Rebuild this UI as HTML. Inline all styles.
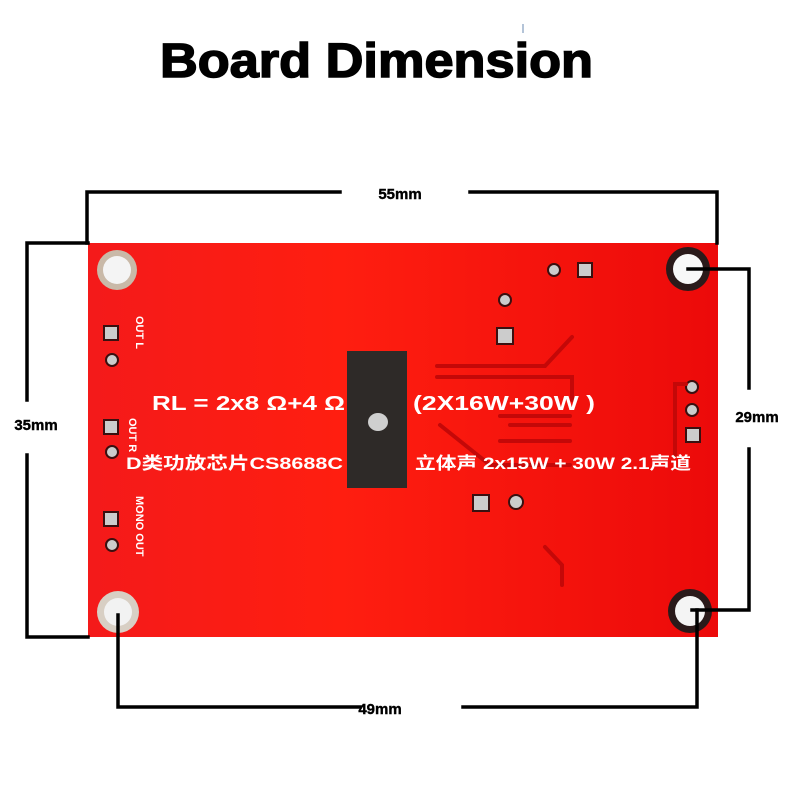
<!DOCTYPE html>
<html><head><meta charset="utf-8"><style>
html,body{margin:0;padding:0;background:#fff;}
svg{display:block;}
</style></head><body>
<svg width="790" height="790" viewBox="0 0 790 790" xmlns="http://www.w3.org/2000/svg">
<defs>
<linearGradient id="bg" x1="0" x2="1" y1="0" y2="0">
<stop offset="0" stop-color="#f41a1a"/><stop offset="0.4" stop-color="#ff1e10"/><stop offset="1" stop-color="#ec0a0a"/>
</linearGradient>
</defs>
<text x="160" y="77" textLength="433" lengthAdjust="spacingAndGlyphs" font-family="Liberation Sans, sans-serif" font-weight="bold" font-size="48" fill="#000" stroke="#000" stroke-width="1.5">Board Dimension</text>
<line x1="523" y1="24" x2="523" y2="33" stroke="#6a8ab0" stroke-width="1"/>
<!-- board -->
<rect x="88" y="243" width="630" height="394" fill="url(#bg)"/>
<!-- holes -->
<g>
<circle cx="117" cy="270" r="20" fill="#c9b9a8"/><circle cx="117" cy="270" r="14" fill="#f4f4f4"/>
<circle cx="118" cy="612" r="21" fill="#d8cfc4"/><circle cx="118" cy="612" r="14" fill="#f2f2f2"/>
<circle cx="688" cy="269" r="22" fill="#2a1a1a"/><circle cx="688" cy="269" r="15" fill="#f8f8f8"/>
<circle cx="690" cy="611" r="22" fill="#2a1a1a"/><circle cx="690" cy="611" r="15" fill="#f4f4f4"/>
</g>
<!-- pads -->
<g fill="#ccc" stroke="#3a1010" stroke-width="2">
<rect x="104" y="326" width="14" height="14"/><circle cx="112" cy="360" r="6"/>
<rect x="104" y="420" width="14" height="14"/><circle cx="112" cy="452" r="6"/>
<rect x="104" y="512" width="14" height="14"/><circle cx="112" cy="545" r="6"/>
<circle cx="554" cy="270" r="6"/><rect x="578" y="263" width="14" height="14"/>
<circle cx="505" cy="300" r="6"/><rect x="497" y="328" width="16" height="16"/>
<circle cx="692" cy="387" r="6"/><circle cx="692" cy="410" r="6"/><rect x="686" y="428" width="14" height="14"/>
<rect x="473" y="495" width="16" height="16"/><circle cx="516" cy="502" r="7"/>
</g>
<!-- traces -->
<g fill="none" stroke="#c40808" stroke-width="4" stroke-linecap="round">
<path d="M437 366 H545 L572 337"/>
<path d="M437 377 H572 V400"/>
<path d="M500 416 H570"/>
<path d="M510 425 H570"/>
<path d="M440 425 L490 465 H570"/>
<path d="M500 441 H570"/>
<path d="M545 547 L562 565 V585"/>
<path d="M686 384 H675 V455"/>
</g>
<!-- chip -->
<rect x="347" y="351" width="60" height="137" fill="#2e2a28"/>
<ellipse cx="378" cy="422" rx="10" ry="9" fill="#cfcfcf"/>
<!-- texts -->
<g font-family="Liberation Sans, 'Noto Sans CJK SC', sans-serif" fill="#fff" font-weight="bold">
<text x="152" y="410" font-size="20" textLength="193" lengthAdjust="spacingAndGlyphs">RL = 2x8 Ω+4 Ω</text>
<text x="413" y="410" font-size="20" textLength="182" lengthAdjust="spacingAndGlyphs">(2X16W+30W )</text>
<text x="126" y="469" font-size="17" textLength="217" lengthAdjust="spacingAndGlyphs">D类功放芯片CS8688C</text>
<text x="415" y="469" font-size="17" textLength="276" lengthAdjust="spacingAndGlyphs">立体声 2x15W + 30W 2.1声道</text>
<g font-size="11">
<text transform="translate(136,316) rotate(90)">OUT L</text>
<text transform="translate(129,418) rotate(90)">OUT R</text>
<text transform="translate(136,496) rotate(90)">MONO OUT</text>
</g>
</g>
<!-- dimension lines -->
<g stroke="#000" stroke-width="3.5" fill="none" stroke-linecap="square">
<path d="M87 243 V192 H340"/>
<path d="M470 192 H717 V243"/>
<path d="M88 243 H27 V400"/>
<path d="M27 455 V637 H88"/>
<path d="M688 269 H749 V388"/>
<path d="M749 449 V610 H692"/>
<path d="M118 615 V707 H360"/>
<path d="M463 707 H697 V610"/>
</g>
<g font-family="Liberation Sans, sans-serif" font-weight="bold" font-size="15" fill="#000" text-anchor="middle" stroke="#000" stroke-width="0.4">
<text x="400" y="199">55mm</text>
<text x="36" y="430">35mm</text>
<text x="757" y="422">29mm</text>
<text x="380" y="714">49mm</text>
</g>
</svg>
</body></html>
